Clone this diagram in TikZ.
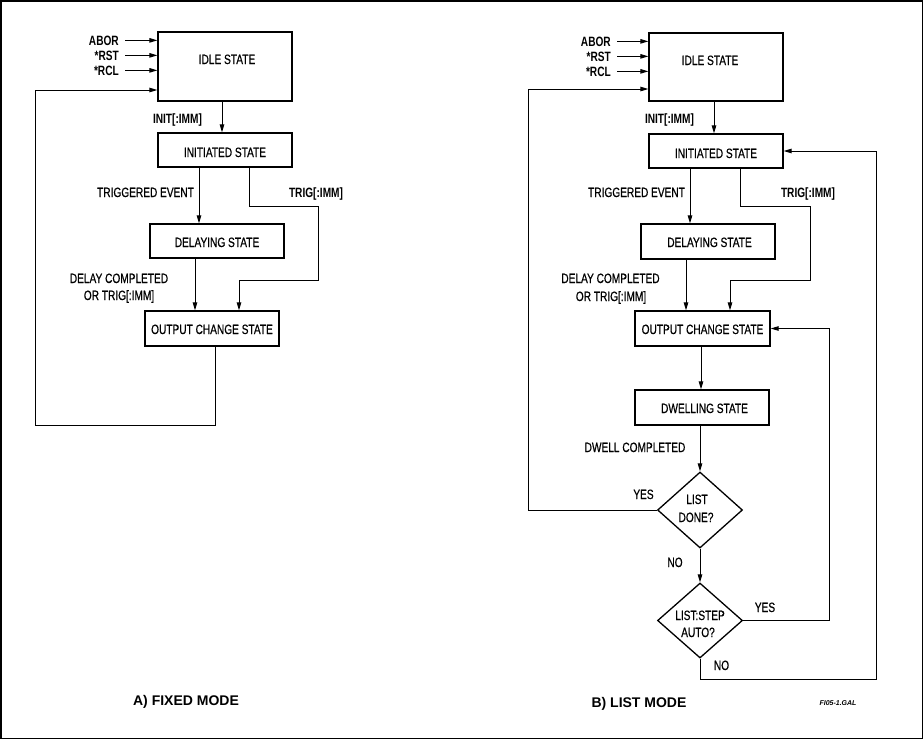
\documentclass[tikz,border=0pt]{standalone}
\usepackage{fontspec}
\setmainfont[FakeStretch=0.75,UprightFeatures={FakeBold=0.6}]{Liberation Sans}
\newfontfamily\titlefont{Liberation Sans}
\usetikzlibrary{arrows.meta,shapes.geometric}
\begin{document}
\begin{tikzpicture}[x=1pt,y=-1pt,
  box/.style={draw,line width=1.3pt,minimum width=134pt,minimum height=34pt,inner sep=0pt},
  dia/.style={draw,diamond,line width=1.3pt,inner sep=0pt,minimum width=85pt,minimum height=76pt},
  lbl/.style={inner sep=0pt,anchor=base,font=\fontsize{13.5}{16}\selectfont},
  blbl/.style={inner sep=0pt,anchor=base,font=\fontsize{13.5}{16}\selectfont\bfseries},
  ttl/.style={inner sep=0pt,anchor=base,font=\titlefont\fontsize{14}{16}\selectfont\bfseries},
  arr/.style={line width=1pt,-{Triangle[length=8pt,width=4.5pt]}},
  ln/.style={line width=1pt}]
\useasboundingbox (0,0) rectangle (924,740);
\draw[line width=1.5pt] (1,1) rectangle (922.5,738.5);

% ---------------- A) FIXED MODE ----------------
\node[box,minimum height=69pt] (idleA) at (225,66.5) {};
\node[lbl] (idleAt) at (227,64) {IDLE STATE};
\node[box] (initA) at (225,150) {};
\node[lbl] (initAt) at (225,157) {INITIATED STATE};
\node[box] (delayA) at (217,241) {};
\node[lbl] (delayAt) at (217,247) {DELAYING STATE};
\node[box,minimum height=35pt] (outA) at (212,328.5) {};
\node[lbl] (outAt) at (212,334) {OUTPUT CHANGE STATE};

\node[blbl,anchor=base east] (aborA) at (119,45) {ABOR};
\node[blbl,anchor=base east] (rstA) at (119,60) {*RST};
\node[blbl,anchor=base east] (rclA) at (119,75) {*RCL};
\draw[arr] ([xshift=6pt]aborA.east) -- (aborA.east -| idleA.west);
\draw[arr] ([xshift=6pt]rstA.east) -- (rstA.east -| idleA.west);
\draw[arr] ([xshift=6pt]rclA.east) -- (rclA.east -| idleA.west);

\coordinate (fa1) at (35,425);
\coordinate (fa2) at (35,90);
\draw[arr] ([xshift=3pt]outA.south) |- (fa1) -- (fa2) -- (fa2 -| idleA.west);

\node[blbl] (initlA) at (177.5,123) {INIT[:IMM]};
\draw[arr] ([xshift=-3pt]idleA.south) -- ([xshift=-3pt]initA.north);

\node[lbl] (teA) at (145.5,197) {TRIGGERED EVENT};
\draw[arr] ([xshift=-26pt]initA.south) -- ([xshift=-26pt]initA.south |- delayA.north);

\node[blbl] (trigA) at (316,197) {TRIG[:IMM]};
\coordinate (ta1) at (318,206);
\coordinate (ta2) at (239,280);
\draw[arr] ([xshift=24pt]initA.south) |- (ta1) |- (ta2) -- (ta2 |- outA.north);

\node[lbl] (dcA) at (119,283) {DELAY COMPLETED};
\node[lbl] (otA) at (119,300) {OR TRIG[:IMM]};
\draw[arr] ([xshift=-22pt]delayA.south) -- ([xshift=-22pt]delayA.south |- outA.north);

\node[ttl] (titA) at (186,705) {A) FIXED MODE};

% ---------------- B) LIST MODE ----------------
\node[box,minimum height=68pt] (idleB) at (716,67) {};
\node[lbl] (idleBt) at (710,65) {IDLE STATE};
\node[box] (initB) at (716,151) {};
\node[lbl] (initBt) at (716,158) {INITIATED STATE};
\node[box,minimum height=35pt] (delayB) at (708,241.5) {};
\node[lbl] (delayBt) at (709.5,247) {DELAYING STATE};
\node[box,minimum width=135pt,minimum height=35pt] (outB) at (702.5,328.5) {};
\node[lbl] (outBt) at (702.5,334) {OUTPUT CHANGE STATE};
\node[box,minimum height=35pt] (dwellB) at (702,407.5) {};
\node[lbl] (dwellBt) at (704.5,413) {DWELLING STATE};
\node[dia] (d1) at (700,510) {};
\node[lbl] (d1a) at (697,504) {LIST};
\node[lbl] (d1b) at (696,522) {DONE?};
\node[dia,minimum height=75pt] (d2) at (700,620.5) {};
\node[lbl] (d2a) at (700,620) {LIST:STEP};
\node[lbl] (d2b) at (698,637) {AUTO?};

\node[blbl,anchor=base east] (aborB) at (611,46) {ABOR};
\node[blbl,anchor=base east] (rstB) at (611,61) {*RST};
\node[blbl,anchor=base east] (rclB) at (611,76) {*RCL};
\draw[arr] ([xshift=6pt]aborB.east) -- (aborB.east -| idleB.west);
\draw[arr] ([xshift=6pt]rstB.east) -- (rstB.east -| idleB.west);
\draw[arr] ([xshift=6pt]rclB.east) -- (rclB.east -| idleB.west);

\coordinate (fb1) at (528,510);
\coordinate (fb2) at (528,89);
\draw[arr] (d1.west) -- (fb1) -- (fb2) -- (fb2 -| idleB.west);
\node[lbl] (yes1) at (643.5,499) {YES};

\node[blbl] (initlB) at (669.5,123) {INIT[:IMM]};
\draw[arr] ([xshift=-2pt]idleB.south) -- ([xshift=-2pt]initB.north);

\node[lbl] (teB) at (636.5,197) {TRIGGERED EVENT};
\draw[arr] ([xshift=-26pt]initB.south) -- ([xshift=-26pt]initB.south |- delayB.north);

\node[blbl] (trigB) at (808,197) {TRIG[:IMM]};
\coordinate (tb1) at (810,206);
\coordinate (tb2) at (730,280);
\draw[arr] ([xshift=24pt]initB.south) |- (tb1) |- (tb2) -- (tb2 |- outB.north);

\node[lbl] (dcB) at (610.5,283) {DELAY COMPLETED};
\node[lbl] (otB) at (611,301) {OR TRIG[:IMM]};
\draw[arr] ([xshift=-22pt]delayB.south) -- ([xshift=-22pt]delayB.south |- outB.north);

\draw[arr] ([xshift=-1.5pt]outB.south) -- ([xshift=-1.5pt]outB.south |- dwellB.north);
\node[lbl] (dwc) at (635,452) {DWELL COMPLETED};
\draw[arr] (d1.north |- dwellB.south) -- (d1.north);

\node[lbl] (no1) at (675,567) {NO};
\draw[arr] (d1.south) -- (d2.north);

\coordinate (yb) at (829,620.5);
\draw[arr] (d2.east) -- (yb) |- (outB.east);
\node[lbl] (yes2) at (765,612) {YES};

\coordinate (nb1) at (876,679);
\draw[arr] (d2.south) |- (nb1) |- (initB.east);
\node[lbl] (no2) at (721.5,670) {NO};

\node[ttl] (titB) at (639,707) {B) LIST MODE};
\node[inner sep=0pt,anchor=base,font=\titlefont\fontsize{7}{8}\selectfont\bfseries\itshape] (fig) at (838,705) {FI05-1.GAL};
\end{tikzpicture}
\end{document}
